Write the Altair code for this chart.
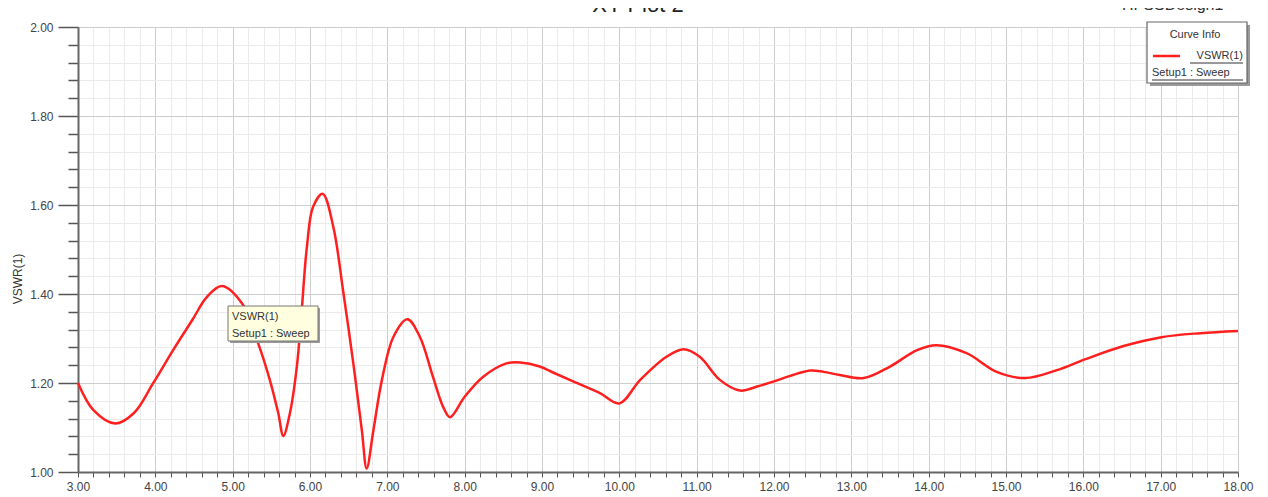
import altair as alt
import pandas as pd

# ---- data ----
freq = [3.00, 3.20, 3.48, 3.72, 3.97, 4.23, 4.49, 4.66, 4.86, 5.12, 5.33, 5.48,
        5.59, 5.655, 5.74, 5.83, 5.89, 5.96, 6.04, 6.164, 6.30, 6.43, 6.56, 6.67,
        6.733, 6.82, 6.93, 7.08, 7.26, 7.42, 7.59, 7.72, 7.81, 8.00, 8.24, 8.54,
        8.72, 8.97, 9.15, 9.41, 9.75, 10.00, 10.27, 10.61, 10.83, 11.04, 11.30,
        11.56, 11.78, 11.99, 12.21, 12.47, 12.64, 12.85, 13.16, 13.50, 13.85,
        14.10, 14.49, 14.88, 15.25, 15.66, 16.02, 16.52, 17.01, 17.51, 18.00]
vswr = [1.200, 1.139, 1.109, 1.132, 1.199, 1.274, 1.345, 1.392, 1.418, 1.379,
        1.289, 1.207, 1.132, 1.081, 1.132, 1.237, 1.357, 1.506, 1.596, 1.625,
        1.552, 1.405, 1.244, 1.094, 1.008, 1.094, 1.207, 1.304, 1.343, 1.304,
        1.214, 1.147, 1.123, 1.169, 1.214, 1.244, 1.246, 1.237, 1.223, 1.203,
        1.177, 1.154, 1.207, 1.259, 1.276, 1.259, 1.207, 1.183, 1.192, 1.203,
        1.216, 1.228, 1.225, 1.218, 1.211, 1.237, 1.274, 1.285, 1.267, 1.225,
        1.211, 1.229, 1.253, 1.283, 1.303, 1.312, 1.317]

x_ticks = [round(3 + 0.2 * i, 1) for i in range(76)]
y_ticks = [round(1 + 0.04 * i, 2) for i in range(26)]

title_text = "XY Plot 2"
design_text = "HFSSDesign1"
y_title = "VSWR(1)"
legend_head = "Curve Info"
legend_curve = "VSWR(1)"
legend_setup = "Setup1 : Sweep"

df = pd.DataFrame({"f": freq, "v": vswr})
one = pd.DataFrame({"a": [0]})

FONT = "Liberation Sans"
xs = alt.Scale(domain=[3, 18], nice=False, zero=False)
ys = alt.Scale(domain=[1, 2], nice=False, zero=False)

major_x = "abs(datum.value - round(datum.value)) < 0.001"
major_y = "abs(datum.value*5 - round(datum.value*5)) < 0.001"

line = alt.Chart(df).mark_line(color="#ff1f1f", strokeWidth=2.5, interpolate="catmull-rom").encode(
    x=alt.X("f:Q", scale=xs, axis=alt.Axis(
        values=x_ticks, title=None, grid=True,
        gridColor={"condition": {"test": major_x, "value": "#cdcdcd"}, "value": "#ebebeb"},
        gridWidth=1, tickSize=5, tickColor="#555", tickWidth=1,
        labelExpr=f"({major_x}) ? format(datum.value, '.2f') : ''",
        labelFont=FONT, labelFontSize=12, labelColor="#444", labelPadding=4,
        labelOverlap=False, labelFlush=False,
        domainColor="#666", domainWidth=2)),
    y=alt.Y("v:Q", scale=ys, axis=alt.Axis(
        values=y_ticks, title=None, grid=True,
        gridColor={"condition": {"test": major_y, "value": "#cdcdcd"}, "value": "#ebebeb"},
        gridWidth=1,
        tickSize={"condition": {"test": major_y, "value": 20}, "value": 10},
        tickColor="#555", tickWidth=1.5,
        labelExpr=f"({major_y}) ? format(datum.value, '.2f') : ''",
        labelFont=FONT, labelFontSize=12, labelColor="#444", labelPadding=5,
        labelOverlap=False, labelFlush=False,
        domainColor="#666", domainWidth=2)),
)

def txt(t, x, y, size=11, align="left", angle=0, color="#333", baseline="middle"):
    kw = dict(text=t, font=FONT, fontSize=size, align=align, baseline=baseline, color=color)
    if angle:
        kw["angle"] = angle
    return alt.Chart(one).mark_text(**kw).encode(x=alt.value(x), y=alt.value(y))

def box(x1, x2, y1, y2, fill, stroke=None, sw=1):
    kw = dict(fill=fill)
    if stroke:
        kw.update(stroke=stroke, strokeWidth=sw)
    else:
        kw.update(strokeWidth=0)
    return alt.Chart(one).mark_rect(**kw).encode(
        x=alt.value(x1), x2=alt.value(x2), y=alt.value(y1), y2=alt.value(y2))

def seg(x1, x2, y1, y2, color, w=1):
    return alt.Chart(one).mark_rule(color=color, strokeWidth=w).encode(
        x=alt.value(x1), x2=alt.value(x2), y=alt.value(y1), y2=alt.value(y2))

layers = [
    line,
    txt(title_text, 560, -15, size=22, align="center", color="#222", baseline="alphabetic"),
    txt(design_text, 1044, -17, size=16, align="left", color="#333", baseline="alphabetic"),
    txt(y_title, -60, 252, size=12, align="center", angle=270, color="#333"),
    # tooltip box
    box(152, 242, 281, 316, "#9a9a9a"),
    box(150, 240, 279, 314, "#ffffe0", "#777777", 1),
    txt(legend_curve, 154, 290, size=11),
    txt(legend_setup, 154, 307, size=11),
    # curve info legend
    box(1072, 1172, -2, 59, "#9a9a9a"),
    box(1069, 1169, -5, 56, "#ffffff", "#666666", 1.2),
    txt(legend_head, 1117, 8, size=11, align="center"),
    seg(1075, 1102, 29, 29, "#ff1f1f", 2.5),
    txt(legend_curve, 1165, 29, size=11, align="right"),
    seg(1112, 1165, 36, 36, "#333", 1),
    txt(legend_setup, 1074, 46, size=11),
    seg(1074, 1165, 53, 53, "#333", 1),
]

chart = alt.layer(*layers).properties(
    width=1160, height=445,
    padding={"left": 70, "top": 19, "right": 22, "bottom": 24},
    autosize=alt.AutoSizeParams(type="none"),
).configure_view(stroke="#666", strokeWidth=1.5).configure(background="white")

chart.save("out.html", embed_options={"renderer": "svg", "actions": False})
